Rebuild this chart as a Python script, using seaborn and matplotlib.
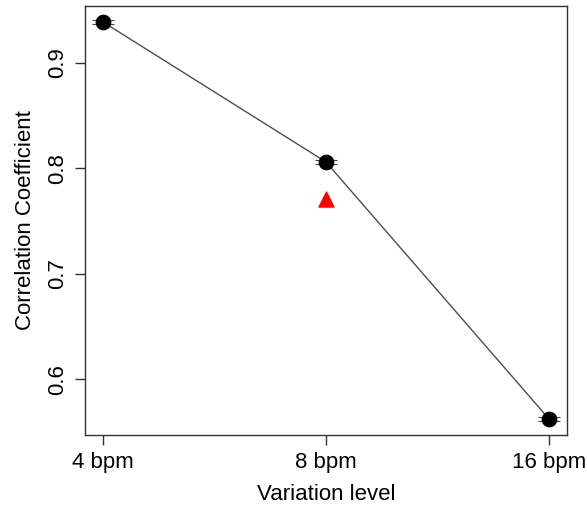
import numpy as np
import pandas as pd
import matplotlib
matplotlib.use("Agg")
import matplotlib.pyplot as plt
import seaborn as sns

# Datos
niveles = ["4 bpm", "8 bpm", "16 bpm"]
posiciones = [1, 2, 3]
correlacion = [0.939, 0.806, 0.562]
error = [0.002, 0.002, 0.002]
# punto rojo (triangulo) en 8 bpm
tri_x = [2]
tri_y = [0.771]

sns.set_style("white")
plt.rcParams['font.family'] = ['Liberation Sans', 'DejaVu Sans']
plt.rcParams['text.color'] = 'black'
plt.rcParams['axes.labelcolor'] = 'black'
plt.rcParams['xtick.color'] = 'black'
plt.rcParams['ytick.color'] = 'black'

df = pd.DataFrame({"x": posiciones, "r": correlacion, "err": error})

fig = plt.figure(figsize=(5.87, 5.07), dpi=100)
ax = fig.add_axes([85 / 587, 1 - 435 / 507, (567 - 85) / 587, (435 - 6) / 507])

sns.lineplot(data=df, x="x", y="r", color="#4d4d4d", linewidth=1.0, ax=ax)
ax.errorbar(df["x"], df["r"], yerr=df["err"], fmt="none", ecolor="#444444",
            elinewidth=0.8, capsize=8, capthick=0.8)
sns.scatterplot(data=df, x="x", y="r", color="black", s=110, edgecolor="black",
                ax=ax, zorder=5)
sns.scatterplot(x=tri_x, y=tri_y, marker="^", color="red", s=120,
                edgecolor="red", ax=ax, zorder=5)

# limites al estilo R (4% de margen)
rango_y = max(correlacion) - min(correlacion)
ax.set_xlim(0.92, 3.08)
ax.set_ylim(min(correlacion) - 0.04 * rango_y, max(correlacion) + 0.04 * rango_y)

ax.set_xticks(posiciones)
ax.set_xticklabels(niveles)
ax.set_yticks([0.6, 0.7, 0.8, 0.9])
ax.set_yticklabels(["0.6", "0.7", "0.8", "0.9"], rotation=90, va="center")
ax.tick_params(axis="both", direction="out", length=7, width=1, color="#333333",
               labelsize=16, labelcolor="black", left=True, bottom=True, pad=5)
for s in ax.spines.values():
    s.set_color("#333333")
    s.set_linewidth(1)

ax.set_xlabel("Variation level", fontsize=16, labelpad=8, color="black")
ax.set_ylabel("Correlation Coefficient", fontsize=16, labelpad=8, color="black")

fig.savefig("out.png", dpi=100)
